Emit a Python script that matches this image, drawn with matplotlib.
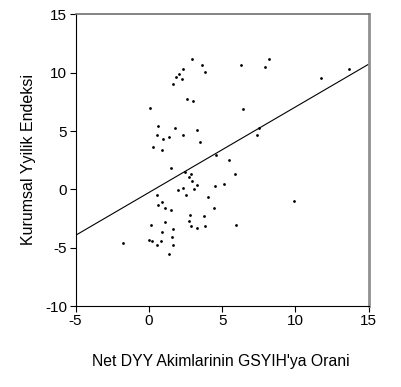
import matplotlib
matplotlib.use("Agg")
import matplotlib.pyplot as plt
import numpy as np

plt.rcParams['font.family'] = ['Liberation Sans', 'DejaVu Sans']
plt.rcParams['axes.unicode_minus'] = False

# Net DYY akimlari / GSYIH (x) ve kurumsal iyilik endeksi (y)
dyy = [2.96, 3.64, 3.85, 2.32, 2.03, 1.87, 2.27, 1.62, 2.59, 3.03,
       0.05, 0.64, 1.80, 3.32, 0.59, 2.34, 0.98, 1.39, 3.46, 0.25,
       0.87, 6.28, 7.96, 8.21, 11.76, 13.65, 6.46, 7.51, 7.37, 4.55,
       5.44, 1.52, 2.48, 2.87, 2.71, 2.94, 3.26, 3.05, 2.32, 2.00,
       2.57, 0.57, 0.91, 0.61, 1.11, 1.50, 4.53, 4.07, 4.44, 2.84,
       2.75, 2.87, 3.30, 3.78, 3.82, 1.11, 0.18, 1.66, 0.91, 1.57,
       -0.02, 0.23, 0.80, 1.66, 0.53, 1.37, -1.73, 5.85, 5.12, 5.98,
       9.90]
endeks = [11.15, 10.67, 10.10, 10.30, 9.87, 9.60, 9.50, 9.07, 7.73, 7.56,
          6.96, 5.47, 5.25, 5.13, 4.65, 4.62, 4.30, 4.45, 4.05, 3.62,
          3.39, 10.67, 10.50, 11.15, 9.58, 10.33, 6.90, 5.30, 4.65, 2.93,
          2.50, 1.82, 1.53, 1.36, 1.08, 0.68, 0.37, 0.05, 0.16, -0.09,
          -0.52, -0.49, -1.06, -1.32, -1.63, -1.75, 0.28, -0.66, -1.60, -2.23,
          -2.75, -3.12, -3.35, -2.26, -3.12, -2.77, -3.06, -3.37, -3.66, -4.06,
          -4.32, -4.40, -4.43, -4.77, -4.80, -5.51, -4.63, 1.33, 0.42, -3.03,
          -1.03]

# regresyon dogrusu
egim = 0.733
sabit = -0.27

x_ticks = [-5, 0, 5, 10, 15]
y_ticks = [-10, -5, 0, 5, 10, 15]

fig = plt.figure(figsize=(4.02, 3.87), dpi=100)
ax = fig.add_axes([0.188, 0.209, 0.729, 0.754])

ax.scatter(dyy, endeks, s=4, color='black', marker='o', linewidths=0)
xx = np.array([-5, 15])
ax.plot(xx, sabit + egim * xx, color='black', linewidth=0.8)

ax.set_xlim(-5, 15)
ax.set_ylim(-10, 15)
ax.set_xticks(x_ticks)
ax.set_yticks(y_ticks)
ax.tick_params(direction='out', length=4, width=0.8, labelsize=11, pad=2)

ax.spines['left'].set_color('black')
ax.spines['bottom'].set_color('black')
ax.spines['top'].set_color('#707070')
ax.spines['right'].set_color('#909090')
ax.spines['right'].set_linewidth(2)
ax.spines['top'].set_linewidth(1.2)

fig.text(0.55, 0.065, "Net DYY Akimlarinin GSYIH'ya Orani", ha='center', va='center', fontsize=11.3)
fig.text(0.07, 0.587, "Kurumsal Yyilik Endeksi", ha='center', va='center', rotation=90, fontsize=11.5)

fig.savefig("out.png", dpi=100)
